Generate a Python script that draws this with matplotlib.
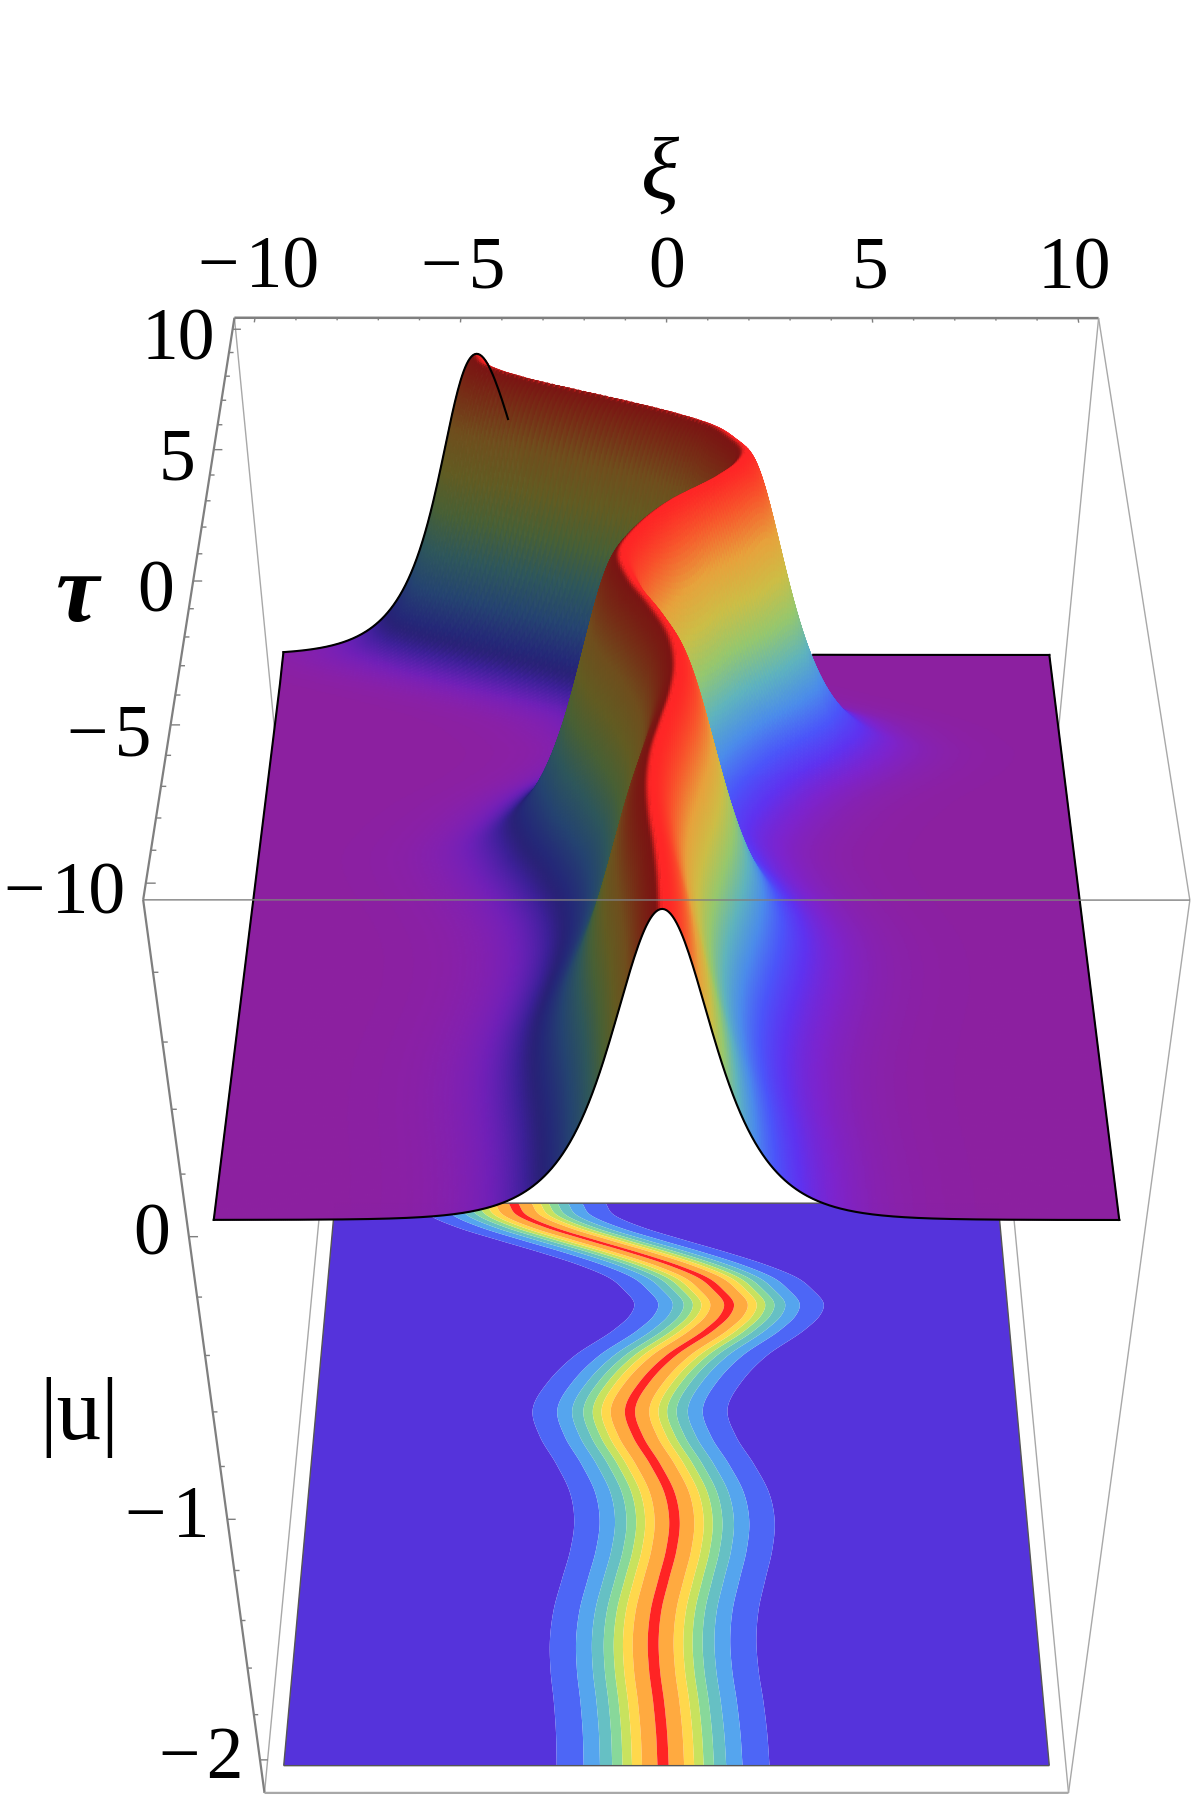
import numpy as np
import matplotlib
matplotlib.use("Agg")
import matplotlib.pyplot as plt
from matplotlib.colors import LinearSegmentedColormap

plt.rcParams['font.family'] = ['Liberation Serif', 'DejaVu Sans']

# ---- data -----------------------------------------------------------------
ridge_tau = [-10, -9, -8, -7, -6, -5, -4, -3, -2, -1, 0, 1, 2, 3, 4, 5, 5.5, 6,
             6.5, 7, 7.5, 8, 8.5, 9, 9.5, 10]
ridge_xi = [-0.09, -0.13, -0.21, -0.32, -0.36, -0.28, -0.08, 0.13, 0.22, 0.08,
            -0.32, -0.81, -1.04, -0.63, 0.13, 1.27, 1.69, 1.83, 1.54, 1.08,
            0.19, -0.97, -2.25, -3.47, -4.34, -4.62]
ridge_height = 0.93
ridge_width = 1.0

band_levels = [0, 0.115, 0.23, 0.345, 0.46, 0.575, 0.69, 0.805, 0.92, 1.0]
band_colors = ['#5533DB', '#4D66F6', '#55A5EE', '#66C0C4', '#88D89A', '#C8E25E',
               '#FFD84C', '#FFAA40', '#FF2424']

height_stops = [0, 0.04, 0.09, 0.16, 0.25, 0.36, 0.48, 0.60, 0.72, 0.84, 0.93]
height_colors = ['#8C20A0', '#7D23CD', '#5F32F0', '#4B55FA', '#4B8CEB', '#5FB4BE',
                 '#96C86E', '#CDBE46', '#E8A23C', '#F8582C', '#FF2626']

xi_ticks_major = [-10, -5, 0, 5, 10]
xi_labels = ['\u2212\u200a10', '\u2212\u200a5', '0', '5', '10']
tau_ticks_major = [-10, -5, 0, 5, 10]
tau_labels = ['\u2212\u200a10', '\u2212\u200a5', '0', '5', '10']
u_ticks_major = [-2, -1, 0]
u_labels = ['\u2212\u200a2', '\u2212\u200a1', '0']

xi_lim = 10.5
tau_lim = 10.5
u_top = 1.0
u_bottom = -2.15
plane_u = -2.1

# camera calibration: world point -> pixel in the 1192x1800 image
cal_world = np.array([
    [-10, 10, 0], [10, 10, 0], [-10, -10, 0], [10, -10, 0],
    [-10, 10, -2.1], [10, 10, -2.1], [-10, -10, -2.1], [10, -10, -2.1],
    [-10.5, 10.5, 1], [10.5, 10.5, 1], [-10.5, -10.5, 1], [10.5, -10.5, 1],
    [-10.5, -10.5, -2.15], [10.5, -10.5, -2.15],
    [-10.5, 10.5, -2.15], [10.5, 10.5, -2.15],
    [-10.5, -10.5, 0], [-10.5, -10.5, -1], [-10.5, -10.5, -2],
    [10.5, -10.5, 0], [10.5, -10.5, -1], [10.5, -10.5, -2]], float)
cal_pixel = np.array([
    [280, 651], [1053, 652], [211, 1219], [1122, 1219],
    [332, 1205], [1001, 1205], [283, 1769], [1050, 1769],
    [233, 322], [1100, 322], [142, 902], [1191, 902],
    [268, 1794], [1065, 1794],
    [324.5, 1200], [1008.5, 1200],
    [187, 1233], [230, 1518], [263, 1759],
    [1146, 1233], [1103, 1518], [1070, 1759]], float)

W, H = 1192, 1800


def solve_camera(world, pix):
    p = pix / 1000.0
    rows = []
    for (x, y, z), (a, b) in zip(world, p):
        rows.append([x, y, z, 1, 0, 0, 0, 0, -a * x, -a * y, -a * z, -a])
        rows.append([0, 0, 0, 0, x, y, z, 1, -b * x, -b * y, -b * z, -b])
    _, _, vt = np.linalg.svd(np.array(rows))
    P = vt[-1].reshape(3, 4)
    P = np.diag([1000.0, 1000.0, 1.0]) @ P
    centre = P[2] @ np.array([0, 0, 0, 1.0])
    return P / centre


CAM = solve_camera(cal_world, cal_pixel)

# ---- surface field from the ridge table --------------------------------------
xi = np.linspace(-10, 10, 481)
tau = np.linspace(-10, 10, 401)


def ridge_curve(t):
    knots = np.array(ridge_tau, float)
    vals = np.array(ridge_xi, float)
    slopes = np.gradient(vals, knots)
    i = np.clip(np.searchsorted(knots, t) - 1, 0, len(knots) - 2)
    h = knots[i + 1] - knots[i]
    s = (t - knots[i]) / h
    return ((2 * s**3 - 3 * s**2 + 1) * vals[i] + (s**3 - 2 * s**2 + s) * h * slopes[i]
            + (-2 * s**3 + 3 * s**2) * vals[i + 1] + (s**3 - s**2) * h * slopes[i + 1])


centre = ridge_curve(tau)
XI, TAU = np.meshgrid(xi, tau)
U = ridge_height / np.cosh((XI - centre[:, None]) / ridge_width)

cmap = LinearSegmentedColormap.from_list(
    'height', [(s / height_stops[-1], c) for s, c in zip(height_stops, height_colors)], N=512)
dU_dt, dU_dx = np.gradient(U, tau, xi)
g = np.clip(dU_dx / 0.14, 0, 1)
g = g * g * (3 - 2 * g)
shade = 1 - 0.52 * g
rgba = cmap(U / height_stops[-1])
rgba[..., :3] *= shade[..., None]

# ---- figure -------------------------------------------------------------------
fig = plt.figure(figsize=(W / 100, H / 100), dpi=100, facecolor='white')
ax = fig.add_axes([0, 0, 1, 1], projection='3d', computed_zorder=False)
ax.set_axis_off()
ax.apply_aspect = lambda position=None: None


def camera_proj():
    to_data = ax.transData.inverted().get_matrix()
    flip = np.array([[1, 0, 0], [0, -1, H], [0, 0, 1.0]])
    P = to_data @ flip @ CAM
    # third row gives z/w = -1/w: grows with distance, and stays inside mplot3d's clip test
    return np.vstack([P[0], P[1], [0, 0, 0, -1.0], P[2]])


ax.get_proj = camera_proj

GREY = '#7f7f7f'
LIGHT = '#a8a8a8'


def seg(a, b, color=GREY, lw=1.0, z=3.5):
    ax.plot([a[0], b[0]], [a[1], b[1]], [a[2], b[2]], color=color, lw=lw, zorder=z,
            solid_capstyle='butt')


X, T = xi_lim, tau_lim
# edges of the box in front of nothing
seg((-X, T, u_top), (X, T, u_top), GREY, 1.8)
seg((-X, T, u_top), (-X, -T, u_top), GREY, 1.6)
seg((-X, -T, u_top), (-X, -T, u_bottom), GREY, 1.6)
seg((X, T, u_top), (X, -T, u_top), LIGHT, 1.0)
seg((X, -T, u_top), (X, -T, u_bottom), LIGHT, 1.0)
seg((-X, -T, u_bottom), (X, -T, u_bottom), LIGHT, 1.6)
# edges that pass behind the surface
seg((-X, T, u_top), (-X, T, u_bottom), LIGHT, 1.0, 1)
seg((X, T, u_top), (X, T, u_bottom), LIGHT, 1.0, 1)
seg((-X, -T, u_bottom), (-X, T, u_bottom), LIGHT, 1.0, 1)
seg((X, -T, u_bottom), (X, T, u_bottom), LIGHT, 1.0, 1)

# ticks
for t in range(-10, 11):
    L = 0.2 if t in xi_ticks_major else 0.11
    seg((t, T, u_top), (t, T - L, u_top), GREY, 1.0)
    seg((-X, t, u_top), (-X + L, t, u_top), GREY, 1.0)
for t in np.arange(-2.0, 0.81, 0.2):
    major = abs(t - round(t)) < 1e-6
    L = 0.2 if major else 0.11
    seg((-X, -T, t), (-X + L, -T, t), GREY, 1.0)

# contour plane
ax.contourf(XI, TAU, U, levels=band_levels, colors=band_colors, zdir='z', offset=plane_u,
            zorder=2, antialiased=True)
for a, b in [((-10, 10), (10, 10)), ((10, 10), (10, -10)), ((10, -10), (-10, -10)), ((-10, -10), (-10, 10))]:
    seg((*a, plane_u), (*b, plane_u), '#555555', 1.0, 2.5)

# surface
ax.plot_surface(XI, TAU, U, facecolors=rgba, rstride=1, cstride=1, shade=False,
                antialiased=True, linewidth=0.7, zorder=3)

# surface outlines
BL = dict(color='black', lw=1.5, zorder=4)
ax.plot(xi, tau[0] * np.ones_like(xi), U[0], **BL)
ax.plot(np.full_like(tau, -10), tau, U[:, 0], **BL)
ax.plot(np.full_like(tau, 10), tau, U[:, -1], **BL)
left_part = xi <= -3.9
right_part = xi >= 3.8
ax.plot(xi[left_part], np.full(left_part.sum(), 10.0), U[-1][left_part], **BL)
ax.plot(xi[right_part], np.full(right_part.sum(), 10.0), U[-1][right_part], **BL)

# front top edge passes over everything
seg((-X, -T, u_top), (X, -T, u_top), GREY, 1.0, 5)

# tick labels and axis labels
FS = 53
for t, s in zip(xi_ticks_major, xi_labels):
    ax.text(t * 0.98, T, u_top + 0.135, s, fontsize=FS, ha='center', va='center', zorder=6)
for t, s in zip(tau_ticks_major, tau_labels):
    ax.text(-X - 0.45, t, u_top - 0.035, s, fontsize=FS, ha='right', va='center', zorder=6)
for t, s in zip(u_ticks_major, u_labels):
    ax.text(-X - 0.42, -T, t, s, fontsize=FS, ha='right', va='center', zorder=6)
ax.text(-0.15, T, u_top + 0.39, '\u03be', fontsize=64, style='italic', ha='center', va='center', zorder=6)
ax.text(-13.0, -0.6, u_top, '\u03c4', fontsize=70, style='italic', weight='bold', ha='center', va='center', zorder=6)
ax.text(-13.6, -T, -0.62, '|u|', fontsize=64, ha='center', va='center', zorder=6)

fig.savefig('out.png', dpi=100, facecolor='white')
